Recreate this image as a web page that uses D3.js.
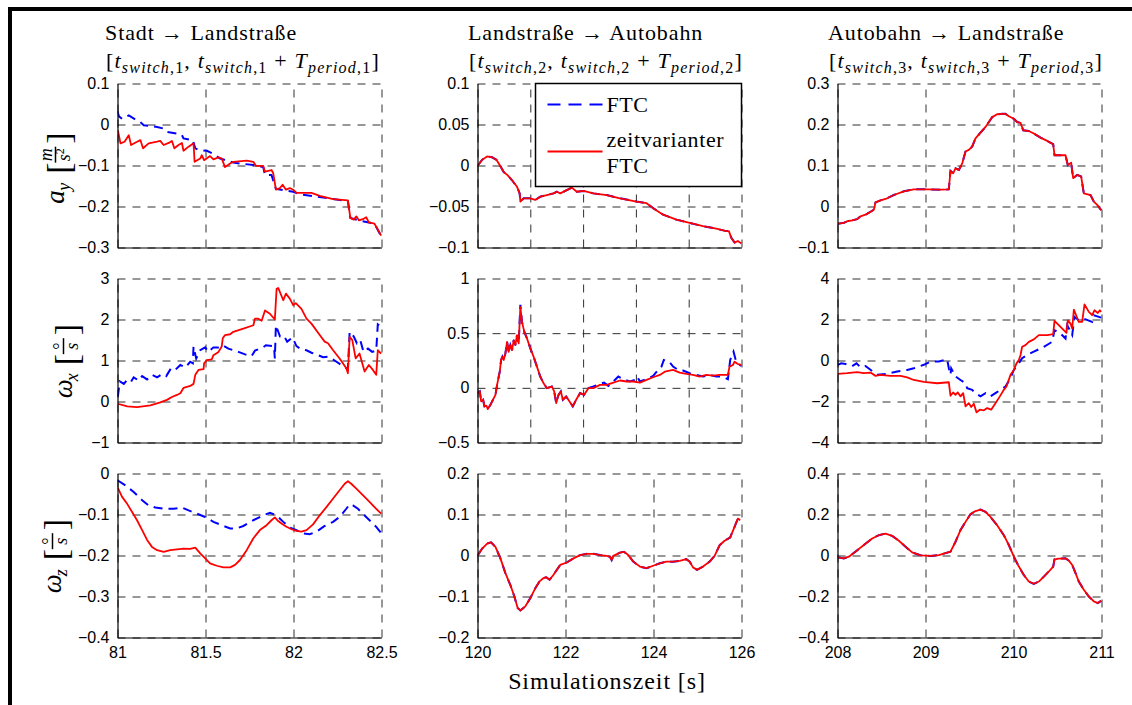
<!DOCTYPE html>
<html>
<head>
<meta charset="utf-8">
<script src="https://cdn.jsdelivr.net/npm/d3@7"></script>
<style>
  body { margin: 0; background: #fff; }
</style>
</head>
<body>
<svg id="chart" width="1132" height="705"></svg>
<script>
// column titles and axis settings
const titles = ["Stadt → Landstraße", "Landstraße → Autobahn", "Autobahn → Landstraße"];
const xDomains = [[81, 82.5], [120, 126], [208, 211]];
const xTicks = [[81, 81.5, 82, 82.5], [120, 122, 124, 126], [208, 209, 210, 211]];
const xGridMid = [120, 121.2, 122.4, 123.6, 124.8, 126]; // rows 1-2 of the middle column
const yDomains = [
  [[-0.3, 0.1], [-0.1, 0.1], [-0.1, 0.3]],
  [[-1, 3], [-0.5, 1], [-4, 4]],
  [[-0.4, 0], [-0.2, 0.2], [-0.4, 0.4]]
];
const yTicks = [
  [[-0.3, -0.2, -0.1, 0, 0.1], [-0.1, -0.05, 0, 0.05, 0.1], [-0.1, 0, 0.1, 0.2, 0.3]],
  [[-1, 0, 1, 2, 3], [-0.5, 0, 0.5, 1], [-4, -2, 0, 2, 4]],
  [[-0.4, -0.3, -0.2, -0.1, 0], [-0.2, -0.1, 0, 0.1, 0.2], [-0.4, -0.2, 0, 0.2, 0.4]]
];
const seriesNames = ["FTC", "zeitvarianter FTC"];

// a_y, column 1
const ayFtc1 = [[81.0,0.032],[81.008,0.020],[81.026,0.014],[81.064,0.022],[81.111,0.010],[81.13,0.006],[81.149,-0.002],[81.225,-0.006],[81.262,-0.010],[81.281,-0.018],[81.338,-0.022],[81.366,-0.026],[81.375,-0.034],[81.428,-0.038],[81.442,-0.058],[81.46,-0.062],[81.508,-0.064],[81.545,-0.072],[81.583,-0.083],[81.658,-0.093],[81.772,-0.099],[81.828,-0.104],[81.838,-0.123],[81.875,-0.123],[81.9,-0.157],[81.998,-0.164],[82.036,-0.170],[82.2,-0.180],[82.309,-0.187],[82.323,-0.228],[82.372,-0.234],[82.428,-0.239],[82.46,-0.242],[82.489,-0.265],[82.5,-0.272]];
const ayZv1 = [[81.002,-0.014],[81.017,-0.046],[81.04,-0.042],[81.064,-0.026],[81.077,-0.050],[81.111,-0.042],[81.13,-0.038],[81.145,-0.058],[81.177,-0.046],[81.225,-0.042],[81.243,-0.040],[81.262,-0.050],[81.291,-0.045],[81.309,-0.040],[81.323,-0.058],[81.347,-0.050],[81.366,-0.045],[81.375,-0.064],[81.404,-0.054],[81.432,-0.046],[81.438,-0.091],[81.47,-0.083],[81.479,-0.075],[81.492,-0.087],[81.526,-0.077],[81.545,-0.085],[81.574,-0.080],[81.592,-0.083],[81.611,-0.104],[81.64,-0.095],[81.658,-0.091],[81.734,-0.088],[81.772,-0.091],[81.787,-0.101],[81.828,-0.101],[81.838,-0.115],[81.875,-0.111],[81.885,-0.119],[81.9,-0.159],[81.923,-0.155],[81.938,-0.147],[81.957,-0.159],[81.979,-0.155],[81.998,-0.159],[82.017,-0.167],[82.102,-0.167],[82.149,-0.174],[82.225,-0.182],[82.309,-0.185],[82.323,-0.228],[82.342,-0.232],[82.357,-0.224],[82.372,-0.234],[82.394,-0.231],[82.413,-0.226],[82.428,-0.239],[82.46,-0.242],[82.479,-0.256],[82.498,-0.271]];

// omega_x, column 1
const wxFtc1 = [[81.002,0.12],[81.013,0.49],[81.036,0.43],[81.051,0.51],[81.074,0.46],[81.092,0.59],[81.121,0.51],[81.14,0.62],[81.168,0.54],[81.196,0.65],[81.225,0.59],[81.253,0.67],[81.277,0.62],[81.304,0.81],[81.328,0.77],[81.357,0.89],[81.385,0.83],[81.413,0.97],[81.428,0.93],[81.432,1.34],[81.447,1.05],[81.47,1.25],[81.498,1.32],[81.517,1.21],[81.545,1.32],[81.574,1.32],[81.598,1.37],[81.63,1.29],[81.658,1.25],[81.687,1.21],[81.725,1.15],[81.762,1.11],[81.781,1.24],[81.828,1.32],[81.843,1.37],[81.889,1.35],[81.894,1.05],[81.9,1.86],[81.923,1.59],[81.945,1.61],[81.964,1.46],[81.994,1.56],[82.017,1.35],[82.045,1.27],[82.074,1.25],[82.102,1.19],[82.14,1.13],[82.168,1.08],[82.196,1.09],[82.234,1.0],[82.272,0.89],[82.309,0.79],[82.319,1.7],[82.342,1.59],[82.36,1.42],[82.379,1.5],[82.398,1.21],[82.423,1.29],[82.447,1.21],[82.47,1.24],[82.479,1.88],[82.498,1.82]];
const wxZv1 = [[81.002,-0.055],[81.055,-0.12],[81.111,-0.135],[81.187,-0.095],[81.243,-0.02],[81.281,0.04],[81.309,0.11],[81.338,0.16],[81.357,0.2],[81.375,0.33],[81.413,0.38],[81.432,0.43],[81.442,0.65],[81.46,0.77],[81.489,0.79],[81.492,0.93],[81.508,1.01],[81.536,1.03],[81.545,1.13],[81.574,1.21],[81.592,1.34],[81.598,1.54],[81.611,1.62],[81.64,1.64],[81.658,1.7],[81.715,1.78],[81.772,1.86],[81.781,2.02],[81.8,2.02],[81.819,1.97],[81.838,2.22],[81.866,2.14],[81.894,2.0],[81.904,2.75],[81.913,2.77],[81.942,2.47],[81.957,2.63],[81.979,2.51],[81.998,2.35],[82.013,2.40],[82.045,2.26],[82.074,2.02],[82.102,1.9],[82.149,1.62],[82.177,1.46],[82.196,1.42],[82.225,1.25],[82.262,1.05],[82.3,0.81],[82.309,0.69],[82.319,1.58],[82.334,1.5],[82.353,1.05],[82.375,1.17],[82.404,0.73],[82.428,0.89],[82.451,0.77],[82.47,0.65],[82.479,1.25],[82.498,1.17]];

// omega_z, column 1
const wzFtc1 = [[81.002,-0.017],[81.045,-0.029],[81.092,-0.045],[81.14,-0.065],[81.177,-0.078],[81.215,-0.083],[81.262,-0.086],[81.319,-0.086],[81.366,-0.083],[81.404,-0.09],[81.451,-0.098],[81.498,-0.106],[81.545,-0.118],[81.592,-0.126],[81.64,-0.134],[81.677,-0.134],[81.715,-0.128],[81.772,-0.114],[81.828,-0.102],[81.866,-0.096],[81.904,-0.102],[81.942,-0.118],[81.979,-0.132],[82.017,-0.138],[82.055,-0.146],[82.092,-0.148],[82.13,-0.142],[82.177,-0.128],[82.225,-0.118],[82.262,-0.106],[82.3,-0.086],[82.319,-0.075],[82.338,-0.078],[82.366,-0.086],[82.394,-0.098],[82.432,-0.114],[82.47,-0.130],[82.498,-0.145]];
const wzZv1 = [[81.002,-0.035],[81.026,-0.057],[81.055,-0.074],[81.083,-0.094],[81.111,-0.114],[81.14,-0.138],[81.168,-0.162],[81.196,-0.179],[81.225,-0.187],[81.262,-0.191],[81.3,-0.187],[81.338,-0.185],[81.375,-0.183],[81.413,-0.184],[81.442,-0.181],[81.47,-0.195],[81.498,-0.207],[81.526,-0.219],[81.564,-0.225],[81.602,-0.229],[81.64,-0.229],[81.668,-0.223],[81.696,-0.211],[81.734,-0.187],[81.772,-0.158],[81.809,-0.138],[81.847,-0.126],[81.875,-0.114],[81.894,-0.107],[81.913,-0.116],[81.932,-0.122],[81.96,-0.130],[81.989,-0.136],[82.017,-0.140],[82.045,-0.142],[82.074,-0.138],[82.111,-0.124],[82.149,-0.102],[82.187,-0.082],[82.225,-0.061],[82.262,-0.041],[82.291,-0.025],[82.309,-0.019],[82.328,-0.025],[82.357,-0.037],[82.394,-0.053],[82.432,-0.069],[82.47,-0.086],[82.498,-0.098]];

// a_y, column 2 (both curves coincide)
const ayZv2 = [[120.008,0.0],[120.106,0.007],[120.219,0.011],[120.332,0.010],[120.43,0.007],[120.521,-0.001],[120.596,-0.008],[120.687,-0.012],[120.785,-0.018],[120.898,-0.026],[120.958,-0.034],[120.974,-0.044],[121.049,-0.040],[121.2,-0.040],[121.313,-0.042],[121.426,-0.038],[121.577,-0.036],[121.728,-0.034],[121.804,-0.032],[121.879,-0.034],[122.03,-0.030],[122.143,-0.027],[122.257,-0.032],[122.408,-0.031],[122.634,-0.034],[122.936,-0.036],[123.238,-0.040],[123.615,-0.044],[123.842,-0.046],[123.992,-0.052],[124.219,-0.060],[124.521,-0.066],[124.823,-0.070],[125.125,-0.074],[125.426,-0.077],[125.653,-0.080],[125.713,-0.080],[125.766,-0.088],[125.842,-0.094],[125.917,-0.092],[125.992,-0.095]];
const ayFtc2 = ayZv2;

// omega_x, column 2
const wxFtc2 = [[120.008,-0.048],[120.053,-0.033],[120.083,-0.124],[120.128,-0.109],[120.158,-0.17],[120.204,-0.164],[120.234,-0.194],[120.294,-0.155],[120.37,-0.094],[120.408,-0.064],[120.445,0.027],[120.483,0.103],[120.506,0.148],[120.536,0.255],[120.566,0.285],[120.596,0.255],[120.634,0.315],[120.672,0.421],[120.709,0.33],[120.747,0.391],[120.785,0.345],[120.823,0.436],[120.86,0.391],[120.898,0.482],[120.936,0.406],[120.974,0.76],[121.011,0.603],[121.064,0.512],[121.125,0.452],[121.2,0.361],[121.275,0.285],[121.351,0.194],[121.426,0.103],[121.502,0.042],[121.577,-0.003],[121.691,0.012],[121.743,-0.033],[121.789,-0.139],[121.842,-0.064],[121.894,-0.033],[121.94,-0.109],[122.015,-0.079],[122.091,-0.124],[122.166,-0.17],[122.242,-0.109],[122.332,-0.048],[122.423,-0.064],[122.521,-0.003],[122.634,0.012],[122.785,0.036],[122.875,0.048],[122.974,0.018],[123.087,0.058],[123.2,0.103],[123.313,0.079],[123.464,0.058],[123.577,0.073],[123.63,0.103],[123.691,0.058],[123.842,0.079],[123.992,0.109],[124.106,0.164],[124.181,0.194],[124.234,0.255],[124.355,0.239],[124.445,0.194],[124.558,0.164],[124.672,0.158],[124.823,0.133],[124.974,0.118],[125.125,0.103],[125.275,0.118],[125.426,0.103],[125.577,0.103],[125.691,0.079],[125.743,0.255],[125.819,0.33],[125.879,0.239],[125.94,0.218],[125.992,0.2]];
const wxZv2 = [[120.008,-0.048],[120.053,-0.033],[120.083,-0.124],[120.128,-0.109],[120.158,-0.17],[120.204,-0.164],[120.234,-0.194],[120.294,-0.155],[120.37,-0.094],[120.408,-0.064],[120.445,0.027],[120.483,0.103],[120.506,0.148],[120.536,0.255],[120.566,0.285],[120.596,0.255],[120.634,0.315],[120.672,0.421],[120.709,0.33],[120.747,0.391],[120.785,0.345],[120.823,0.436],[120.86,0.391],[120.898,0.482],[120.936,0.406],[120.974,0.739],[121.011,0.603],[121.064,0.512],[121.125,0.452],[121.2,0.361],[121.275,0.285],[121.351,0.194],[121.426,0.103],[121.502,0.042],[121.577,-0.003],[121.691,0.012],[121.743,-0.033],[121.789,-0.139],[121.842,-0.064],[121.894,-0.033],[121.94,-0.109],[122.015,-0.079],[122.091,-0.124],[122.166,-0.17],[122.242,-0.109],[122.332,-0.048],[122.423,-0.064],[122.521,-0.003],[122.634,-0.003],[122.785,0.027],[122.936,0.027],[123.087,0.048],[123.238,0.067],[123.389,0.058],[123.54,0.058],[123.691,0.048],[123.842,0.073],[123.992,0.097],[124.143,0.118],[124.257,0.148],[124.445,0.164],[124.596,0.139],[124.747,0.127],[124.898,0.118],[125.049,0.103],[125.2,0.118],[125.351,0.112],[125.502,0.118],[125.691,0.118],[125.728,0.194],[125.804,0.209],[125.842,0.239],[125.917,0.218],[125.992,0.209]];

// omega_z, column 2 (both curves coincide)
const wzZv2 = [[120.008,0.001],[120.106,0.017],[120.219,0.029],[120.309,0.032],[120.408,0.021],[120.521,-0.007],[120.634,-0.043],[120.747,-0.072],[120.838,-0.1],[120.913,-0.128],[120.974,-0.134],[121.087,-0.124],[121.2,-0.104],[121.313,-0.080],[121.411,-0.063],[121.502,-0.055],[121.562,-0.053],[121.638,-0.059],[121.728,-0.047],[121.879,-0.023],[122.03,-0.017],[122.181,-0.007],[122.332,0.001],[122.483,0.004],[122.634,0.004],[122.785,0.001],[122.936,-0.001],[123.011,-0.003],[123.049,-0.011],[123.087,-0.001],[123.238,0.007],[123.328,0.009],[123.426,0.001],[123.54,-0.015],[123.691,-0.027],[123.842,-0.031],[123.992,-0.025],[124.143,-0.019],[124.294,-0.015],[124.445,-0.015],[124.596,-0.013],[124.747,-0.009],[124.823,-0.015],[124.898,-0.029],[124.989,-0.035],[125.125,-0.027],[125.275,-0.015],[125.389,-0.001],[125.502,0.025],[125.615,0.036],[125.743,0.044],[125.842,0.070],[125.917,0.090],[125.97,0.086]];
const wzFtc2 = wzZv2;

// a_y, column 3 (both curves coincide)
const ayZv3 = [[208.004,-0.042],[208.072,-0.040],[208.11,-0.036],[208.167,-0.034],[208.223,-0.031],[208.261,-0.024],[208.318,-0.020],[208.367,-0.014],[208.413,-0.008],[208.432,0.010],[208.489,0.015],[208.564,0.020],[208.64,0.028],[208.754,0.037],[208.867,0.042],[209.019,0.042],[209.17,0.041],[209.265,0.042],[209.284,0.087],[209.314,0.081],[209.341,0.093],[209.379,0.089],[209.417,0.105],[209.455,0.134],[209.492,0.138],[209.53,0.146],[209.568,0.166],[209.625,0.180],[209.682,0.194],[209.72,0.206],[209.758,0.218],[209.814,0.225],[209.871,0.226],[209.909,0.226],[209.947,0.220],[210.004,0.214],[210.042,0.206],[210.08,0.204],[210.11,0.186],[210.174,0.184],[210.231,0.178],[210.307,0.168],[210.383,0.160],[210.451,0.152],[210.466,0.125],[210.591,0.125],[210.617,0.101],[210.655,0.107],[210.678,0.069],[210.723,0.077],[210.769,0.073],[210.799,0.032],[210.875,0.028],[210.913,0.012],[210.951,0.004],[210.996,-0.009]];
const ayFtc3 = ayZv3;

// omega_x, column 3
const wxFtc3 = [[208.004,-0.21],[208.042,-0.14],[208.091,-0.17],[208.167,-0.27],[208.216,-0.14],[208.261,-0.33],[208.318,-0.27],[208.367,-0.43],[208.451,-0.70],[208.564,-0.65],[208.678,-0.54],[208.792,-0.46],[208.867,-0.38],[208.981,-0.21],[209.057,-0.05],[209.152,-0.05],[209.246,0.06],[209.265,-0.38],[209.284,-0.70],[209.292,-0.38],[209.341,-0.78],[209.398,-0.95],[209.455,-1.11],[209.473,-1.35],[209.53,-1.43],[209.568,-1.59],[209.625,-1.75],[209.682,-1.59],[209.739,-1.75],[209.795,-1.59],[209.852,-1.43],[209.909,-1.27],[209.966,-0.86],[210.004,-0.46],[210.049,-0.21],[210.098,0.11],[210.155,0.27],[210.231,0.43],[210.345,0.67],[210.439,0.91],[210.466,1.48],[210.534,1.32],[210.591,1.07],[210.61,1.72],[210.64,1.48],[210.667,1.24],[210.693,2.13],[210.742,1.96],[210.799,2.04],[210.894,1.88],[210.913,2.21],[210.97,2.13],[210.996,2.09]];
const wxZv3 = [[208.004,-0.65],[208.11,-0.62],[208.223,-0.57],[208.299,-0.62],[208.375,-0.59],[208.432,-0.75],[208.489,-0.70],[208.602,-0.75],[208.716,-0.75],[208.792,-0.82],[208.867,-0.95],[208.981,-1.04],[209.133,-1.11],[209.265,-1.06],[209.284,-1.72],[209.314,-1.56],[209.341,-1.67],[209.367,-1.56],[209.398,-1.75],[209.428,-1.59],[209.455,-2.24],[209.492,-2.08],[209.519,-2.27],[209.549,-2.11],[209.58,-2.53],[209.617,-2.40],[209.663,-2.43],[209.701,-2.32],[209.746,-2.40],[209.795,-2.08],[209.845,-1.75],[209.89,-1.43],[209.92,-1.27],[209.966,-0.70],[210.004,-0.46],[210.034,-0.14],[210.061,0.02],[210.08,0.27],[210.098,0.67],[210.136,0.75],[210.174,0.91],[210.231,1.03],[210.288,1.24],[210.383,1.24],[210.451,1.29],[210.466,1.93],[210.534,1.64],[210.602,1.35],[210.617,1.96],[210.648,1.80],[210.667,1.56],[210.686,2.48],[210.742,1.88],[210.78,1.88],[210.807,2.74],[210.856,2.37],[210.894,2.21],[210.92,2.45],[210.958,2.32],[210.981,2.45],[210.996,2.37]];

// omega_z, column 3 (both curves coincide)
const wzZv3 = [[208.004,-0.009],[208.072,-0.014],[208.129,-0.006],[208.205,0.019],[208.299,0.051],[208.394,0.083],[208.47,0.099],[208.545,0.107],[208.621,0.096],[208.697,0.072],[208.773,0.043],[208.848,0.015],[208.943,0.001],[209.057,-0.002],[209.152,0.002],[209.208,0.009],[209.284,0.019],[209.341,0.067],[209.398,0.124],[209.455,0.164],[209.511,0.201],[209.568,0.217],[209.625,0.224],[209.682,0.213],[209.739,0.188],[209.814,0.148],[209.89,0.099],[209.947,0.051],[210.004,-0.006],[210.061,-0.054],[210.117,-0.095],[210.174,-0.127],[210.231,-0.138],[210.288,-0.127],[210.345,-0.103],[210.402,-0.078],[210.451,-0.054],[210.466,-0.019],[210.515,-0.015],[210.591,-0.014],[210.629,-0.025],[210.667,-0.046],[210.705,-0.086],[210.742,-0.127],[210.799,-0.167],[210.856,-0.200],[210.913,-0.224],[210.958,-0.232],[210.996,-0.221]];
const wzFtc3 = wzZv3;

const panels = [
  { r: 0, c: 0, ftc: ayFtc1, zv: ayZv1 }, { r: 0, c: 1, ftc: ayFtc2, zv: ayZv2 }, { r: 0, c: 2, ftc: ayFtc3, zv: ayZv3 },
  { r: 1, c: 0, ftc: wxFtc1, zv: wxZv1 }, { r: 1, c: 1, ftc: wxFtc2, zv: wxZv2 }, { r: 1, c: 2, ftc: wxFtc3, zv: wxZv3 },
  { r: 2, c: 0, ftc: wzFtc1, zv: wzZv1 }, { r: 2, c: 1, ftc: wzFtc2, zv: wzZv2 }, { r: 2, c: 2, ftc: wzFtc3, zv: wzZv3 }
];

// layout
const colLeft = [117.5, 477.5, 837.5];
const rowTop = [83.5, 278.5, 473.5];
const pw = 264, ph = 164;
const blue = "#0000ff", red = "#ff0000";
const serif = "'Liberation Serif', 'DejaVu Serif', serif";
const sans = "'Liberation Sans', Arial, sans-serif";
const fmt = d3.format("~g");

const svg = d3.select("#chart");

// outer frame (only top and left edges are visible)
svg.append("path").attr("d", "M10,705V9H1132").attr("fill", "none").attr("stroke", "#000").attr("stroke-width", 4);

panels.forEach((p, i) => {
  const x = d3.scaleLinear().domain(xDomains[p.c]).range([colLeft[p.c], colLeft[p.c] + pw]);
  const y = d3.scaleLinear().domain(yDomains[p.r][p.c]).range([rowTop[p.r] + ph, rowTop[p.r]]);
  const g = svg.append("g");

  // dashed grid
  const vgrid = (p.c === 1 && p.r < 2) ? xGridMid : xTicks[p.c];
  const gx = g.append("g").attr("transform", `translate(0,${rowTop[p.r] + ph})`)
    .call(d3.axisBottom(x).tickValues(vgrid).tickSize(-ph).tickFormat(""));
  const gy = g.append("g").attr("transform", `translate(${colLeft[p.c]},0)`)
    .call(d3.axisLeft(y).tickValues(yTicks[p.r][p.c]).tickSize(-pw).tickFormat(""));
  [gx, gy].forEach(a => {
    a.select(".domain").remove();
    a.selectAll(".tick line").attr("stroke", "#303030").attr("stroke-dasharray", "8,7");
  });

  // curves
  g.append("clipPath").attr("id", "clip" + i).append("rect")
    .attr("x", colLeft[p.c]).attr("y", rowTop[p.r] - 2).attr("width", pw + 2).attr("height", ph + 4);
  const line = d3.line().x(d => x(d[0])).y(d => y(d[1]));
  g.append("path").datum(p.ftc).attr("clip-path", `url(#clip${i})`)
    .attr("d", line).attr("fill", "none").attr("stroke", blue).attr("stroke-width", 2)
    .attr("stroke-dasharray", "9,6");
  g.append("path").datum(p.zv).attr("clip-path", `url(#clip${i})`)
    .attr("d", line).attr("fill", "none").attr("stroke", red).attr("stroke-width", 1.8)
    .attr("stroke-linejoin", "round");

  // solid left and bottom axes
  const ax = g.append("g").attr("transform", `translate(${colLeft[p.c]},0)`)
    .call(d3.axisLeft(y).tickValues(yTicks[p.r][p.c]).tickSize(0).tickPadding(8).tickFormat(fmt));
  const bx = g.append("g").attr("transform", `translate(0,${rowTop[p.r] + ph})`)
    .call(d3.axisBottom(x).tickValues(xTicks[p.c]).tickSize(0).tickPadding(9)
      .tickFormat(p.r === 2 ? fmt : ""));
  [ax, bx].forEach(a => {
    a.attr("font-family", sans).attr("font-size", 16);
    a.select(".domain").attr("stroke", "#000").attr("stroke-width", 1.2);
    a.selectAll(".tick text").attr("fill", "#000");
  });
});

// column titles
const titleX = [105, 468, 828];
titles.forEach((t, c) => {
  svg.append("text").attr("font-family", serif).attr("x", titleX[c]).attr("y", 40)
    .attr("font-size", 22).attr("letter-spacing", 0.9).text(t);
  const k = c + 1;
  const tx = svg.append("text").attr("font-family", serif).attr("x", titleX[c] + 1).attr("y", 68)
    .attr("font-size", 22).attr("letter-spacing", 1.2);
  const parts = [
    ["[", "n"], ["t", "i"], ["switch", "si"], ["," + k, "s"], [", ", "n"], ["t", "i"], ["switch", "si"], ["," + k, "s"],
    [" + ", "n"], ["T", "i"], ["period", "si"], ["," + k, "s"], ["]", "n"]
  ];
  let low = false;
  parts.forEach(([s, kind]) => {
    const sub = kind === "s" || kind === "si";
    const ts = tx.append("tspan").text(s);
    if (sub && !low) { ts.attr("dy", 5); low = true; }
    if (!sub && low) { ts.attr("dy", -5); low = false; }
    if (sub) ts.attr("font-size", 16);
    if (kind === "i" || kind === "si") ts.attr("font-style", "italic");
  });
});

// rotated y labels with bracketed fractions
function yLabel(cx, cy, sym, sub, num, den, denSup) {
  const outer = svg.append("g").attr("font-family", serif);
  const g = outer.append("g");
  g.append("text").attr("x", 0).attr("y", 0).attr("font-style", "italic").attr("font-size", 27).text(sym);
  g.append("text").attr("x", sym === "a" ? 13 : 17).attr("y", 6).attr("font-style", "italic").attr("font-size", 18).text(sub);
  const b = sym === "a" ? 30 : 33;
  g.append("text").attr("x", b).attr("y", 6).attr("font-size", 34).text("[");
  const fc = b + 19;
  g.append("text").attr("x", fc).attr("y", num === "°" ? -6 : -12).attr("text-anchor", "middle")
    .attr("font-size", 18).attr("font-style", num === "°" ? "normal" : "italic").text(num);
  g.append("line").attr("x1", fc - 8).attr("x2", fc + 8).attr("y1", -8).attr("y2", -8)
    .attr("stroke", "#000").attr("stroke-width", 1.5);
  const dt = g.append("text").attr("x", fc).attr("y", 6).attr("text-anchor", "middle")
    .attr("font-size", 18).attr("font-style", "italic");
  dt.append("tspan").text(den);
  if (denSup) dt.append("tspan").attr("dy", -6).attr("font-size", 12).attr("font-style", "normal").text(denSup);
  g.append("text").attr("x", fc + 11).attr("y", 6).attr("font-size", 34).text("]");
  const bb = g.node().getBBox();
  g.attr("transform", `translate(${-bb.x - bb.width / 2},${-bb.y - bb.height / 2})`);
  outer.attr("transform", `translate(${cx},${cy}) rotate(-90)`);
}
yLabel(56, 168, "a", "y", "m", "s", "2");
yLabel(66, 361, "ω", "x", "°", "s", null);
yLabel(55, 556, "ω", "z", "°", "s", null);

// x label
svg.append("text").attr("font-family", serif).attr("x", 607).attr("y", 689).attr("text-anchor", "middle")
  .attr("font-size", 24).attr("letter-spacing", 0.9).text("Simulationszeit [s]");

// legend in the top middle panel
const lg = svg.append("g");
const lx = colLeft[1] + pw - 206, ly = rowTop[0];
lg.append("rect").attr("x", lx).attr("y", ly).attr("width", 206).attr("height", 103)
  .attr("fill", "#fff").attr("stroke", "#000").attr("stroke-width", 1.5);
lg.append("line").attr("x1", lx + 12).attr("x2", lx + 67).attr("y1", ly + 21).attr("y2", ly + 21)
  .attr("stroke", blue).attr("stroke-width", 2).attr("stroke-dasharray", "13,8");
lg.append("line").attr("x1", lx + 12).attr("x2", lx + 67).attr("y1", ly + 68).attr("y2", ly + 68)
  .attr("stroke", red).attr("stroke-width", 2);
lg.append("text").attr("font-family", serif).attr("x", lx + 71).attr("y", ly + 28).attr("font-size", 22)
  .attr("letter-spacing", 0.6).text(seriesNames[0]);
const lt = lg.append("text").attr("font-family", serif).attr("x", lx + 71).attr("y", ly + 63).attr("font-size", 22)
  .attr("letter-spacing", 0.6);
lt.append("tspan").text(seriesNames[1].split(" ")[0]);
lt.append("tspan").attr("x", lx + 71).attr("dy", 26).text(seriesNames[1].split(" ")[1]);
</script>
</body>
</html>
